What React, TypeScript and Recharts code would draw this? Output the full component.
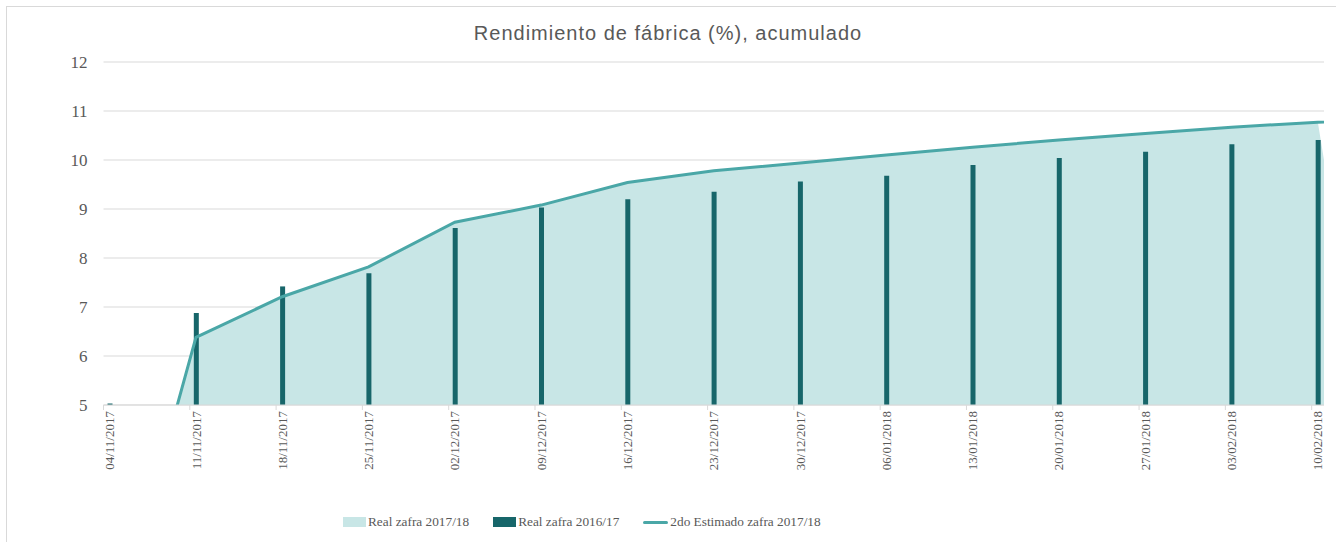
import React from 'react';
import {
  ComposedChart, Area, Bar, Line, XAxis, YAxis, CartesianGrid, Legend,
} from 'recharts';

// Weekly dates shown on the axis
const dates = [
  '04/11/2017', '11/11/2017', '18/11/2017', '25/11/2017', '02/12/2017',
  '09/12/2017', '16/12/2017', '23/12/2017', '30/12/2017', '06/01/2018',
  '13/01/2018', '20/01/2018', '27/01/2018', '03/02/2018', '10/02/2018',
];
// next week (beyond the visible axis end, clipped)
const overflowDate = '17/02/2018';

const real2017 = [0, 6.38, 7.21, 7.82, 8.73, 9.08, 9.54, 9.78, 9.94, 10.1, 10.26, 10.41, 10.54, 10.67, 10.77, 0];
const real2016 = [5.03, 6.88, 7.42, 7.69, 8.61, 9.03, 9.2, 9.35, 9.56, 9.68, 9.9, 10.04, 10.17, 10.32, 10.41, null];
const estimate2017 = [0, 6.38, 7.21, 7.82, 8.73, 9.08, 9.54, 9.78, 9.94, 10.1, 10.26, 10.41, 10.54, 10.67, 10.77, 10.88];

const yTicks = [5, 6, 7, 8, 9, 10, 11, 12];

const legendOrder = ['real2017', 'real2016', 'estimate2017'];
const seriesNames = {
  real2017: 'Real zafra 2017/18',
  real2016: 'Real zafra 2016/17',
  estimate2017: '2do Estimado zafra 2017/18',
};
const colors = {
  real2017: '#c8e6e6',
  real2016: '#17666a',
  estimate2017: '#4aa7a7',
};

const toDay = (s: string) => {
  const [d, m, y] = s.split('/').map(Number);
  return Date.UTC(y, m - 1, d) / 86400000;
};
const day0 = toDay(dates[0]);
const allDates = [...dates, overflowDate];
const data = allDates.map((d, i) => ({
  x: toDay(d) - day0 + 0.5,
  label: d,
  real2017: real2017[i],
  real2016: real2016[i],
  estimate2017: estimate2017[i],
}));
const xTicks = dates.map((d) => toDay(d) - day0 + 0.5);
const xMax = toDay(dates[dates.length - 1]) - day0 + 1;
const labelFor = (v: number) => {
  const hit = data.find((p) => Math.abs(p.x - v) < 0.01);
  return hit ? hit.label : '';
};

const GRAY = '#595959';
const LIGHT = '#d9d9d9';

const XTick = (props: any) => {
  const { x, y, payload, width } = props;
  const half = (width || 1220.5) / xMax / 2;
  const axisY = y - 8;
  return (
    <g>
      <line x1={x - half} x2={x - half} y1={axisY} y2={axisY + 5} stroke={LIGHT} strokeWidth={1} />
      <text
        x={x}
        y={y - 2}
        transform={`rotate(-90, ${x}, ${y - 2})`}
        textAnchor="end"
        dy="0.35em"
        fontFamily="'Liberation Serif', serif"
        fontSize={13}
        fill={GRAY}
      >
        {labelFor(payload.value)}
      </text>
    </g>
  );
};

const LegendContent = (props: any) => {
  const { payload } = props;
  const items = [...(payload || [])].sort(
    (a: any, b: any) => legendOrder.indexOf(a.dataKey) - legendOrder.indexOf(b.dataKey),
  );
  return (
    <div style={{ display: 'flex', alignItems: 'center', fontFamily: "'Liberation Serif', serif", fontSize: 13.3, color: GRAY }}>
      {items.map((e: any) => {
        const key = e.dataKey as keyof typeof colors;
        return (
          <div key={key} style={{ display: 'flex', alignItems: 'center', marginRight: 24 }}>
            {e.type === 'line' ? (
              <span style={{ display: 'inline-block', width: 25, height: 3, borderRadius: 2, background: colors[key], marginRight: 2 }} />
            ) : (
              <span style={{ display: 'inline-block', width: 23, height: 10, background: colors[key], marginRight: 2 }} />
            )}
            <span>{seriesNames[key]}</span>
          </div>
        );
      })}
    </div>
  );
};

export default function App() {
  return (
    <div style={{ position: 'absolute', left: 0, top: 0, width: 1336, height: 542, background: '#fff', overflow: 'hidden' }}>
      <div style={{ position: 'absolute', left: 6, top: 6, width: 1400, height: 600, border: `1px solid ${LIGHT}` }} />
      <div
        style={{
          position: 'absolute', left: 0, top: 22, width: 1336, textAlign: 'center',
          fontFamily: "'Liberation Sans', Arial, sans-serif", fontSize: 20, letterSpacing: 1, color: GRAY,
        }}
      >
        Rendimiento de fábrica (%), acumulado
      </div>
      <div style={{ position: 'absolute', left: 0, top: 0 }}>
        <ComposedChart
          width={1336}
          height={542}
          data={data}
          margin={{ top: 62, right: 12, left: 43.5, bottom: 47 }}
        >
          <CartesianGrid horizontal vertical={false} stroke={LIGHT} />
          <XAxis
            dataKey="x"
            type="number"
            domain={[0, xMax]}
            allowDataOverflow
            ticks={xTicks}
            interval={0}
            height={90}
            tickLine={false}
            tickSize={5}
            tickMargin={3}
            axisLine={{ stroke: LIGHT }}
            tick={<XTick />}
          />
          <YAxis
            type="number"
            domain={[5, 12]}
            allowDataOverflow
            ticks={yTicks}
            width={60}
            axisLine={false}
            tickLine={false}
            tickSize={8}
            tickMargin={8}
            tick={{ fontFamily: "'Liberation Serif', serif", fontSize: 17, fill: GRAY }}
          />
          <Area
            type="linear"
            dataKey="real2017"
            name={seriesNames.real2017}
            fill={colors.real2017}
            fillOpacity={1}
            stroke="none"
            legendType="rect"
            isAnimationActive={false}
          />
          <Bar
            dataKey="real2016"
            name={seriesNames.real2016}
            fill={colors.real2016}
            barSize={5}
            legendType="rect"
            isAnimationActive={false}
          />
          <Line
            type="linear"
            dataKey="estimate2017"
            name={seriesNames.estimate2017}
            stroke={colors.estimate2017}
            strokeWidth={3}
            dot={false}
            activeDot={false}
            legendType="line"
            isAnimationActive={false}
          />
          <Legend
            layout="horizontal"
            verticalAlign="middle"
            align="center"
            content={<LegendContent />}
            wrapperStyle={{ top: 514, left: 343, width: 'auto' }}
          />
        </ComposedChart>
      </div>
    </div>
  );
}
